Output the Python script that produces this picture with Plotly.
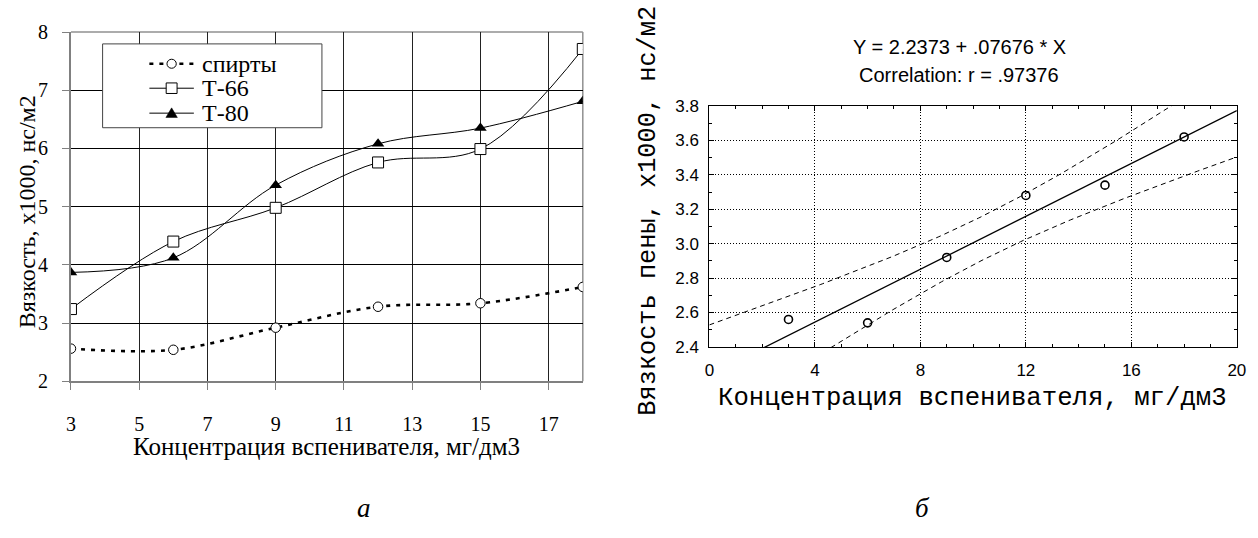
import numpy as np
import plotly.graph_objects as go

# ---------------- data ----------------
CONC = [3, 6, 9, 12, 15, 18]                       # концентрация, мг/дм3
SPIRT = [2.56, 2.54, 2.92, 3.28, 3.34, 3.62]       # спирты
T66 = [3.24, 4.40, 4.98, 5.76, 5.99, 7.71]         # Т-66
T80 = [3.87, 4.12, 5.37, 6.08, 6.35, 6.81]         # Т-80
SERIES_NAMES = ["спирты", "Т-66", "Т-80"]
LEFT_XTICKS = [3, 5, 7, 9, 11, 13, 15, 17]
LEFT_YTICKS = [2, 3, 4, 5, 6, 7, 8]
RIGHT_XTICKS = [0, 4, 8, 12, 16, 20]
RIGHT_YTICKS = [2.4, 2.6, 2.8, 3.0, 3.2, 3.4, 3.6, 3.8]
T_975_DF4 = 2.776  # Student t quantile, 95 %, n-2 = 4

TITLE1 = "Y = 2.2373 + .07676 * X"
TITLE2 = "Correlation: r = .97376"
LEFT_XTITLE = "Концентрация вспенивателя, мг/дм3"
LEFT_YTITLE = "Вязкость, x1000, нс/м2"
RIGHT_XTITLE = "Концентрация вспенивателя, мг/дм3"
RIGHT_YTITLE = "Вязкость пены, x1000, нс/м2"

# ---------------- geometry helpers ----------------
W, H = 1258, 538
def px(x):
    return x / W
def py(y):
    return 1 - y / H

SERIF = "Liberation Serif, Times New Roman, serif"
SANS = "Liberation Sans, Arial, sans-serif"
MONO = "Liberation Mono, Courier New, monospace"

L_X = (66.7, 584.3)
L_Y = (22.0, 386.0)
R_X = (712.3, 1245.7)
R_Y = (99.0, 350.3)

# ---------------- regression for right chart ----------------
xa = np.array(CONC, dtype=float)
ya = np.array(SPIRT, dtype=float)
slope, intercept = np.polyfit(xa, ya, 1)
n = len(xa)
resid = ya - (intercept + slope * xa)
s = np.sqrt(np.sum(resid ** 2) / (n - 2))
sxx = np.sum((xa - xa.mean()) ** 2)
xs = np.linspace(0, 20, 201)
yhat = intercept + slope * xs
half = T_975_DF4 * s * np.sqrt(1 / n + (xs - xa.mean()) ** 2 / sxx)

fig = go.Figure()

# ---------------- left chart traces ----------------
fig.add_trace(go.Scatter(
    x=CONC, y=SPIRT, name=SERIES_NAMES[0], mode="lines+markers",
    line=dict(color="black", width=2.6, dash="4px,6px", shape="spline", smoothing=1),
    marker=dict(symbol="circle", size=9.5, color="white", line=dict(color="black", width=1)),
    xaxis="x", yaxis="y", showlegend=False))
fig.add_trace(go.Scatter(
    x=CONC, y=T66, name=SERIES_NAMES[1], mode="lines+markers",
    line=dict(color="black", width=1, shape="spline", smoothing=1),
    marker=dict(symbol="square", size=11, color="white", line=dict(color="black", width=1)),
    xaxis="x", yaxis="y", showlegend=False))
fig.add_trace(go.Scatter(
    x=CONC, y=T80, name=SERIES_NAMES[2], mode="lines+markers",
    line=dict(color="black", width=1, shape="spline", smoothing=1),
    marker=dict(symbol="triangle-up", size=11, color="black", line=dict(color="black", width=0)),
    xaxis="x", yaxis="y", showlegend=False))

# ---------------- right chart traces ----------------
fig.add_trace(go.Scatter(x=xs, y=yhat + half, mode="lines",
                         line=dict(color="black", width=1, dash="5px,4px"),
                         xaxis="x2", yaxis="y2", showlegend=False, hoverinfo="skip"))
fig.add_trace(go.Scatter(x=xs, y=yhat - half, mode="lines",
                         line=dict(color="black", width=1, dash="5px,4px"),
                         xaxis="x2", yaxis="y2", showlegend=False, hoverinfo="skip"))
fig.add_trace(go.Scatter(x=xs, y=yhat, mode="lines",
                         line=dict(color="black", width=1.3),
                         xaxis="x2", yaxis="y2", showlegend=False, hoverinfo="skip"))
fig.add_trace(go.Scatter(x=CONC, y=SPIRT, mode="markers",
                         marker=dict(symbol="circle-open", size=8, color="black",
                                     line=dict(color="black", width=1.6)),
                         xaxis="x2", yaxis="y2", showlegend=False))

# ---------------- axes ----------------
fig.update_layout(
    xaxis=dict(domain=[px(L_X[0]), px(L_X[1])], range=[3, 18], tickvals=LEFT_XTICKS,
               showgrid=True, gridcolor="#222", gridwidth=1, zeroline=False,
               showline=True, linecolor="#808080", linewidth=2,
               ticks="outside", ticklen=7, tickcolor="#808080", tickwidth=1,
               ticklabelstandoff=17,
               tickfont=dict(family=SERIF, size=20, color="black"), anchor="y"),
    yaxis=dict(domain=[py(L_Y[1]), py(L_Y[0])], range=[2, 8], tickvals=LEFT_YTICKS,
               showgrid=True, gridcolor="black", gridwidth=1, zeroline=False,
               showline=True, linecolor="#808080", linewidth=2,
               ticks="outside", ticklen=7, tickcolor="#808080", tickwidth=1,
               ticklabelstandoff=10,
               tickfont=dict(family=SERIF, size=20, color="black"), anchor="x"),
    xaxis2=dict(domain=[px(R_X[0]), px(R_X[1])], range=[0, 20], tickvals=RIGHT_XTICKS,
                showgrid=True, gridcolor="black", gridwidth=1, griddash="1px,2px", zeroline=False,
                showline=True, linecolor="black", linewidth=1, mirror="allticks",
                ticks="inside", ticklen=5, tickcolor="black",
                minor=dict(dtick=1, ticks="inside", ticklen=3, tickcolor="black", showgrid=False),
                ticklabelstandoff=8,
                tickfont=dict(family=SANS, size=17, color="black"), anchor="y2"),
    yaxis2=dict(domain=[py(R_Y[1]), py(R_Y[0])], range=[2.4, 3.8], tickvals=RIGHT_YTICKS,
                tickformat=".1f",
                showgrid=True, gridcolor="black", gridwidth=1, griddash="1px,2px", zeroline=False,
                showline=True, linecolor="black", linewidth=1, mirror="allticks",
                ticks="inside", ticklen=5, tickcolor="black",
                minor=dict(dtick=0.1, ticks="inside", ticklen=3, tickcolor="black", showgrid=False),
                ticklabelstandoff=6,
                tickfont=dict(family=SANS, size=17, color="black"), anchor="x2"),
)

# ---------------- shapes: left border + manual legend ----------------
shapes = []
shapes.append(dict(type="line", xref="paper", yref="paper", layer="between",
                   x0=px(L_X[0]), x1=px(L_X[1]), y0=py(L_Y[0]), y1=py(L_Y[0]),
                   line=dict(color="#909090", width=1.5)))
shapes.append(dict(type="line", xref="paper", yref="paper", layer="between",
                   x0=px(L_X[1]), x1=px(L_X[1]), y0=py(L_Y[0]), y1=py(L_Y[1]),
                   line=dict(color="#909090", width=1.5)))

LEG = dict(x0=98.7, x1=320.5, y0=34.3, y1=121.7)
shapes.append(dict(type="rect", xref="paper", yref="paper", layer="above",
                   x0=px(LEG["x0"]), x1=px(LEG["x1"]), y0=py(LEG["y1"]), y1=py(LEG["y0"]),
                   fillcolor="white", line=dict(color="#444", width=1)))
rows = [55.0, 80.5, 106.5]
sx0, sx1, sxc = 146.0, 191.0, 168.5
shapes.append(dict(type="line", xref="paper", yref="paper", layer="above",
                   x0=px(sx0), x1=px(sx1), y0=py(rows[0]), y1=py(rows[0]),
                   line=dict(color="black", width=2.6, dash="4px,6px")))
for r in rows[1:]:
    shapes.append(dict(type="line", xref="paper", yref="paper", layer="above",
                       x0=px(sx0), x1=px(sx1), y0=py(r), y1=py(r),
                       line=dict(color="black", width=1)))
shapes.append(dict(type="circle", xref="paper", yref="paper", layer="above",
                   x0=px(sxc - 4.7), x1=px(sxc + 4.7), y0=py(rows[0] + 4.7), y1=py(rows[0] - 4.7),
                   fillcolor="white", line=dict(color="black", width=1)))
shapes.append(dict(type="rect", xref="paper", yref="paper", layer="above",
                   x0=px(sxc - 5.5), x1=px(sxc + 5.5), y0=py(rows[1] + 5.5), y1=py(rows[1] - 5.5),
                   fillcolor="white", line=dict(color="black", width=1)))
tri = "M {a},{b} L {c},{d} L {e},{f} Z".format(
    a=px(sxc), b=py(rows[2] - 5.5), c=px(sxc - 5.8), d=py(rows[2] + 4.5),
    e=px(sxc + 5.8), f=py(rows[2] + 4.5))
shapes.append(dict(type="path", xref="paper", yref="paper", layer="above", path=tri,
                   fillcolor="black", line=dict(color="black", width=0.5)))
fig.update_layout(shapes=shapes)

# ---------------- annotations ----------------
ann = []
for name, r in zip(SERIES_NAMES, rows):
    ann.append(dict(text=name, xref="paper", yref="paper", x=px(197), y=py(r),
                    xanchor="left", yanchor="middle", showarrow=False,
                    font=dict(family=SERIF, size=24, color="black")))
ann.append(dict(text=LEFT_XTITLE, xref="paper", yref="paper", x=px(325.5), y=py(454),
                xanchor="center", yanchor="middle", showarrow=False,
                font=dict(family=SERIF, size=25, color="black")))
ann.append(dict(text=LEFT_YTITLE, xref="paper", yref="paper", x=px(23), y=py(209),
                xanchor="center", yanchor="middle", showarrow=False, textangle=-90,
                font=dict(family=SERIF, size=24, color="black")))
ann.append(dict(text=TITLE1, xref="paper", yref="paper", x=px(965), y=py(37.5),
                xanchor="center", yanchor="middle", showarrow=False,
                font=dict(family=SANS, size=20, color="black")))
ann.append(dict(text=TITLE2, xref="paper", yref="paper", x=px(965), y=py(66.7),
                xanchor="center", yanchor="middle", showarrow=False,
                font=dict(family=SANS, size=20, color="black")))
ann.append(dict(text=RIGHT_XTITLE, xref="paper", yref="paper", x=px(978.5), y=py(403.5),
                xanchor="center", yanchor="middle", showarrow=False,
                font=dict(family=MONO, size=25.7, color="black")))
ann.append(dict(text=RIGHT_YTITLE, xref="paper", yref="paper", x=px(651), y=py(208.5),
                xanchor="center", yanchor="middle", showarrow=False, textangle=-90,
                font=dict(family=MONO, size=25.3, color="black")))
ann.append(dict(text="<i>а</i>", xref="paper", yref="paper", x=px(363.5), y=py(518),
                xanchor="center", yanchor="middle", showarrow=False,
                font=dict(family=SERIF, size=27, color="black")))
ann.append(dict(text="<i>б</i>", xref="paper", yref="paper", x=px(928), y=py(518),
                xanchor="center", yanchor="middle", showarrow=False,
                font=dict(family=SERIF, size=27, color="black")))
fig.update_layout(annotations=ann)

fig.update_layout(width=W, height=H, margin=dict(l=0, r=0, t=0, b=0),
                  paper_bgcolor="white", plot_bgcolor="white", showlegend=False)

fig.write_html("out.html", config={"displayModeBar": False},
               post_script="document.body.style.margin='0';document.body.style.padding='0';")
